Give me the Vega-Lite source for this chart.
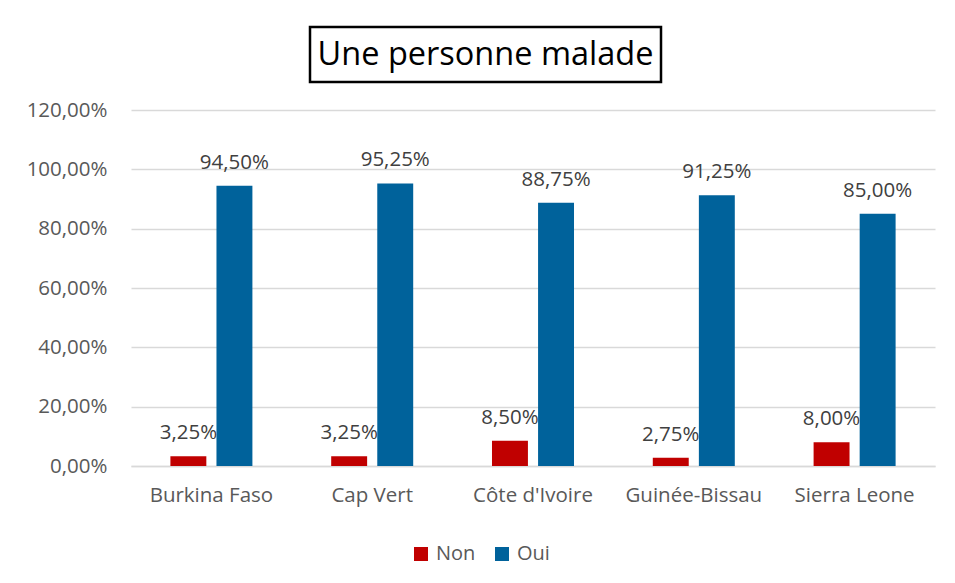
{
  "$schema": "https://vega.github.io/schema/vega-lite/v6.json",
  "padding": {"left": 26, "top": 25, "right": 10, "bottom": 10},
  "background": "white",
  "config": {
    "locale": {"number": {"decimal": ",", "thousands": " ", "grouping": [3], "currency": ["", " €"]}},
    "font": "Open Sans",
    "view": {"stroke": null},
    "legend": {"layout": {"bottom": {"anchor": "middle"}}}
  },
  "center": true,
  "spacing": 16,
  "vconcat": [
    {
      "spacing": 0,
      "hconcat": [
        {
          "width": 351,
          "height": 55,
          "view": {"stroke": "black", "strokeWidth": 2.5},
          "data": {"values": [{"t": "Une personne malade"}]},
          "mark": {"type": "text", "fontSize": 32.5, "font": "Open Sans", "color": "black", "baseline": "middle", "align": "center"},
          "encoding": {"text": {"field": "t"}}
        },
        {
          "width": 93,
          "height": 55,
          "data": {"values": []},
          "mark": {"type": "text"},
          "encoding": {}
        }
      ]
    },
    {
      "width": 804,
      "height": 356,
      "data": {
        "values": [
          {"pays": "Burkina Faso", "reponse": "Non", "valeur": 0.0325},
          {"pays": "Burkina Faso", "reponse": "Oui", "valeur": 0.945},
          {"pays": "Cap Vert", "reponse": "Non", "valeur": 0.0325},
          {"pays": "Cap Vert", "reponse": "Oui", "valeur": 0.9525},
          {"pays": "Côte d'Ivoire", "reponse": "Non", "valeur": 0.085},
          {"pays": "Côte d'Ivoire", "reponse": "Oui", "valeur": 0.8875},
          {"pays": "Guinée-Bissau", "reponse": "Non", "valeur": 0.0275},
          {"pays": "Guinée-Bissau", "reponse": "Oui", "valeur": 0.9125},
          {"pays": "Sierra Leone", "reponse": "Non", "valeur": 0.08},
          {"pays": "Sierra Leone", "reponse": "Oui", "valeur": 0.85}
        ]
      },
      "encoding": {
        "x": {
          "field": "pays", "type": "nominal", "sort": null, "title": null,
          "scale": {"paddingInner": 0.49, "paddingOuter": 0.245},
          "axis": {"labelAngle": 0, "labelFontSize": 20.5, "labelColor": "#595959", "labelPadding": 19, "ticks": false, "domainColor": "#d9d9d9", "domainWidth": 1.5}
        },
        "xOffset": {"field": "reponse", "type": "nominal", "scale": {"paddingInner": 0.22, "paddingOuter": 0}},
        "y": {
          "field": "valeur", "type": "quantitative", "title": null,
          "scale": {"domain": [0, 1.2]},
          "axis": {"values": [0, 0.2, 0.4, 0.6, 0.8, 1.0, 1.2], "format": ".2%", "labelFontSize": 20.5, "labelColor": "#595959", "labelPadding": 24, "ticks": false, "domain": false, "gridColor": "#d9d9d9", "gridWidth": 1.5}
        }
      },
      "layer": [
        {
          "mark": {"type": "bar"},
          "encoding": {
            "color": {
              "field": "reponse", "type": "nominal", "title": null,
              "scale": {"domain": ["Non", "Oui"], "range": ["#C00000", "#00629B"]},
              "legend": {"orient": "bottom", "direction": "horizontal", "symbolType": "square", "symbolSize": 196, "symbolStrokeWidth": 0, "labelFontSize": 20, "labelColor": "#595959", "columnPadding": 16, "labelOffset": 5, "offset": 38}
            }
          }
        },
        {
          "mark": {"type": "text", "baseline": "bottom", "dy": -13, "fontSize": 20.5, "color": "#404040"},
          "encoding": {"text": {"field": "valeur", "type": "quantitative", "format": ".2%"}}
        }
      ]
    }
  ]
}
